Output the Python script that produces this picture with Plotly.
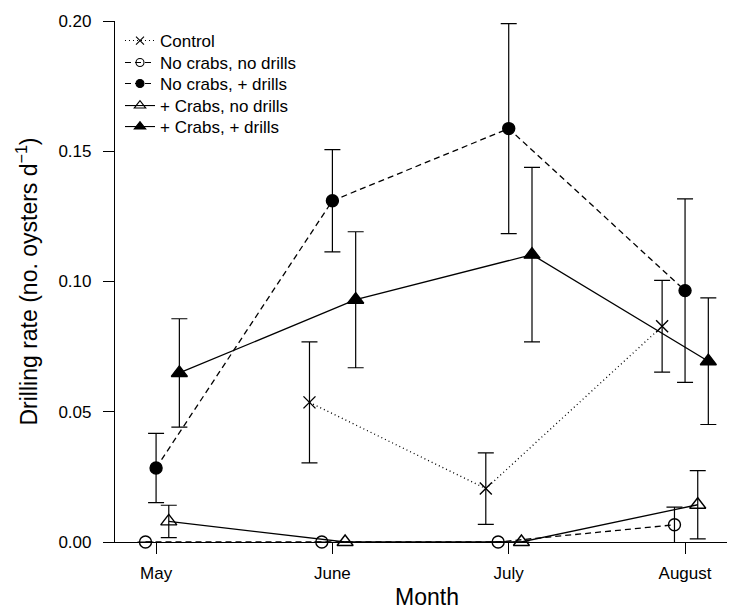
import plotly.graph_objects as go

# ---- data ----
months = ["May", "June", "July", "August"]

control = [None, 0.0536, 0.0205, 0.0828]
control_se = [None, 0.0232, 0.0137, 0.0176]

nocrab_nodrill = [0.0, 0.0, 0.0, 0.0066]
nocrab_nodrill_se = [None, None, None, 0.0068]

nocrab_drill = [0.0284, 0.1310, 0.1587, 0.0965]
nocrab_drill_se = [0.0133, 0.0196, 0.0403, 0.0352]

crab_nodrill = [0.0079, 0.0, 0.0, 0.0143]
crab_nodrill_se = [0.0062, None, None, 0.0131]

crab_drill = [0.0649, 0.0930, 0.1103, 0.0694]
crab_drill_se = [0.0208, 0.0261, 0.0335, 0.0243]

# ---- styling ----
FONT = "Liberation Sans, Arial, Helvetica, sans-serif"
month_pos = [1, 2, 3, 4]

series = [
    # name, values, se, x-offset (dodge), symbol, size, dash
    ("Control", control, control_se, -0.13, "x-thin", 12, "1px,3px"),
    ("No crabs, no drills", nocrab_nodrill, nocrab_nodrill_se, -0.06, "circle-open", 12, "6px,4px"),
    ("No crabs, + drills", nocrab_drill, nocrab_drill_se, 0.0, "circle", 12, "6px,4px"),
    ("+ Crabs, no drills", crab_nodrill, crab_nodrill_se, 0.072, "triangle-up-open", 14, "solid"),
    ("+ Crabs, + drills", crab_drill, crab_drill_se, 0.132, "triangle-up", 14, "solid"),
]

# plot area spans pixels 13..534 vertically; legend entry centres in pixels
PLOT_TOP, PLOT_BOTTOM = 13, 534
legend_centres_px = [33, 55, 76, 98, 119]

fig = go.Figure()
legend_layouts = {}
for i, (name, vals, se, off, sym, size, dash) in enumerate(series):
    xs = [m + off for m in month_pos]
    fig.add_trace(go.Scatter(
        x=xs, y=vals, mode="lines+markers", name=name, showlegend=False,
        connectgaps=False, cliponaxis=False,
        line=dict(color="black", width=1.3, dash=dash),
        marker=dict(symbol=sym, size=size, color="black",
                    line=dict(color="black", width=1.4)),
        error_y=dict(type="data", array=se, visible=True, color="black",
                     thickness=1.2, width=8),
    ))
    lg = "legend" if i == 0 else f"legend{i + 1}"
    # legend entry with small symbols
    fig.add_trace(go.Scatter(
        x=[None], y=[None], mode="lines+markers", name=name, showlegend=True,
        legend=lg,
        line=dict(color="black", width=1.1, dash=dash),
        marker=dict(symbol=sym, size=8 if "triangle" not in sym else 10,
                    color="black", line=dict(color="black", width=1.1)),
    ))
    yc = (PLOT_BOTTOM - legend_centres_px[i]) / (PLOT_BOTTOM - PLOT_TOP)
    legend_layouts[lg] = dict(
        x=0.008, y=yc, xanchor="left", yanchor="middle",
        bgcolor="rgba(0,0,0,0)", borderwidth=0,
        font=dict(family=FONT, size=17, color="black"),
        itemsizing="trace",
    )

fig.update_layout(
    width=735, height=615,
    margin=dict(l=107, r=4, t=13, b=81),
    paper_bgcolor="white", plot_bgcolor="white",
    font=dict(family=FONT, size=17, color="black"),
    showlegend=True,
    **legend_layouts,
)

fig.update_xaxes(
    range=[0.767, 4.306], tickmode="array", tickvals=month_pos, ticktext=months,
    showgrid=False, zeroline=False, showline=True, linecolor="black", linewidth=1.2,
    ticks="outside", ticklen=11, tickwidth=1.2, tickcolor="black",
    ticklabelstandoff=4,
    tickfont=dict(family=FONT, size=17),
    title=dict(text="Month", font=dict(family=FONT, size=23), standoff=7),
)
fig.update_yaxes(
    range=[0, 0.2], tickmode="linear", tick0=0, dtick=0.05, tickformat=".2f",
    showgrid=False, zeroline=False, showline=True, linecolor="black", linewidth=1.2,
    ticks="outside", ticklen=11, tickwidth=1.2, tickcolor="black",
    ticklabelstandoff=8,
    tickfont=dict(family=FONT, size=17),
    title=dict(text="Drilling rate (no. oysters d<sup>\u22121</sup>)",
               font=dict(family=FONT, size=23), standoff=14),
)

fig.write_html("out.html")
